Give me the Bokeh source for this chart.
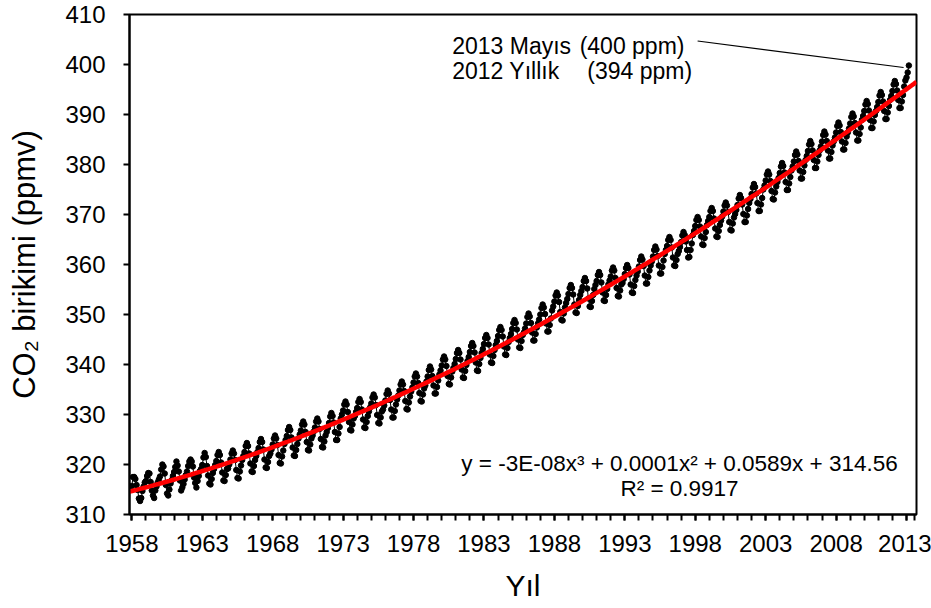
import numpy as np
from bokeh.plotting import figure
from bokeh.models import FixedTicker, Range1d
from bokeh.core.properties import value
from bokeh.embed import file_html
from bokeh.resources import INLINE

# Monthly mean CO2 at Mauna Loa (ppmv), March 1958 - May 2013
co2_1958_1959 = [315.7, 317.5, 317.5, 317.1, 315.9, 314.9, 313.2, 312.7, 313.3, 314.7,
                 315.6, 316.4, 316.7, 317.7, 318.3, 318.2, 316.5, 314.8, 313.8, 313.3, 314.8, 315.6]
co2_1960s = [
    316.4, 317.0, 317.6, 319.0, 320.0, 319.6, 318.2, 315.9, 314.2, 313.8, 315.0, 316.2,
    316.9, 317.7, 318.5, 319.5, 320.6, 319.8, 318.6, 316.8, 314.8, 315.4, 316.1, 317.0,
    317.9, 318.6, 319.7, 320.6, 321.0, 320.6, 319.6, 317.4, 316.3, 315.4, 316.7, 317.7,
    318.7, 319.1, 319.9, 321.4, 322.3, 321.5, 319.7, 317.8, 316.2, 316.0, 317.1, 318.3,
    319.1, 319.9, 320.7, 321.9, 322.5, 321.9, 320.4, 318.4, 316.8, 316.7, 317.9, 319.1,
    319.2, 320.0, 321.0, 322.2, 322.8, 322.2, 320.9, 318.9, 317.3, 317.2, 318.6, 319.8,
    320.9, 321.7, 322.5, 323.7, 324.3, 323.7, 322.2, 320.2, 318.6, 318.5, 319.7, 320.9,
    321.7, 322.5, 323.3, 324.5, 325.1, 324.5, 323.0, 321.0, 319.4, 319.3, 320.5, 321.7,
    322.2, 323.0, 324.0, 325.2, 325.8, 325.2, 323.9, 321.9, 320.3, 320.2, 321.6, 322.8,
    324.1, 324.9, 325.7, 326.9, 327.5, 326.9, 325.4, 323.4, 321.8, 321.7, 322.9, 324.1]
co2_1970s = [
    325.2, 326.0, 326.8, 328.0, 328.6, 328.0, 326.5, 324.5, 322.9, 322.8, 324.0, 325.2,
    325.8, 326.6, 327.4, 328.6, 329.2, 328.6, 327.1, 325.1, 323.5, 323.4, 324.6, 325.8,
    326.5, 327.3, 328.3, 329.6, 330.3, 329.7, 328.4, 326.5, 324.9, 324.9, 326.2, 327.5,
    329.2, 330.0, 330.8, 332.0, 332.6, 332.0, 330.5, 328.5, 326.9, 326.8, 328.0, 329.2,
    329.7, 330.5, 331.3, 332.5, 333.1, 332.5, 331.0, 329.0, 327.4, 327.3, 328.5, 329.7,
    330.6, 331.4, 332.2, 333.4, 334.0, 333.4, 331.9, 329.9, 328.3, 328.2, 329.4, 330.6,
    331.0, 331.8, 332.8, 334.1, 334.8, 334.2, 332.9, 331.0, 329.4, 329.4, 330.7, 332.0,
    333.0, 333.8, 334.8, 336.0, 336.6, 336.0, 334.7, 332.7, 331.1, 331.0, 332.4, 333.6,
    334.6, 335.4, 336.4, 337.6, 338.2, 337.6, 336.3, 334.3, 332.7, 332.6, 334.0, 335.2,
    335.8, 336.6, 337.6, 338.9, 339.6, 339.0, 337.7, 335.8, 334.2, 334.2, 335.5, 336.8]
co2_1980s = [
    338.0, 338.8, 339.8, 341.0, 341.6, 341.0, 339.7, 337.7, 336.1, 336.0, 337.4, 338.6,
    339.3, 340.1, 341.1, 342.3, 342.9, 342.3, 341.0, 339.0, 337.4, 337.3, 338.7, 339.9,
    340.7, 341.5, 342.5, 343.7, 344.3, 343.7, 342.4, 340.4, 338.8, 338.7, 340.1, 341.3,
    342.3, 343.1, 344.1, 345.3, 345.9, 345.3, 344.0, 342.0, 340.4, 340.3, 341.7, 342.9,
    343.9, 344.7, 345.7, 346.9, 347.5, 346.9, 345.6, 343.6, 342.0, 341.9, 343.3, 344.5,
    345.3, 346.1, 347.1, 348.3, 348.9, 348.3, 347.0, 345.0, 343.4, 343.3, 344.7, 345.9,
    346.4, 347.2, 348.2, 349.5, 350.2, 349.6, 348.3, 346.4, 344.8, 344.8, 346.1, 347.4,
    348.2, 349.0, 350.0, 351.3, 352.0, 351.4, 350.1, 348.2, 346.6, 346.6, 347.9, 349.2,
    350.8, 351.6, 352.6, 353.8, 354.4, 353.8, 352.5, 350.5, 348.9, 348.8, 350.2, 351.4,
    352.3, 353.1, 354.1, 355.3, 355.9, 355.3, 354.0, 352.0, 350.4, 350.3, 351.7, 352.9]
co2_1990s = [
    353.9, 354.7, 355.5, 356.7, 357.3, 356.7, 355.2, 353.2, 351.6, 351.5, 352.7, 353.9,
    355.1, 355.9, 356.7, 357.9, 358.5, 357.9, 356.4, 354.4, 352.8, 352.7, 353.9, 355.1,
    356.0, 356.8, 357.6, 358.8, 359.4, 358.8, 357.3, 355.3, 353.7, 353.6, 354.8, 356.0,
    356.3, 357.1, 358.1, 359.3, 359.9, 359.3, 358.0, 356.0, 354.4, 354.3, 355.7, 356.9,
    357.8, 358.6, 359.6, 360.9, 361.6, 361.0, 359.7, 357.8, 356.2, 356.2, 357.5, 358.8,
    359.8, 360.6, 361.6, 362.9, 363.6, 363.0, 361.7, 359.8, 358.2, 358.2, 359.5, 360.8,
    362.1, 362.9, 363.7, 364.9, 365.5, 364.9, 363.4, 361.4, 359.8, 359.7, 360.9, 362.1,
    362.7, 363.5, 364.5, 365.8, 366.5, 365.9, 364.6, 362.9, 361.4, 361.5, 362.9, 364.2,
    365.9, 366.7, 367.7, 368.9, 369.5, 368.9, 367.6, 365.6, 364.0, 363.9, 365.3, 366.5,
    367.9, 368.7, 369.5, 370.7, 371.3, 370.7, 369.2, 367.2, 365.6, 365.5, 366.7, 367.9]
co2_2000s = [
    368.8, 369.6, 370.6, 371.8, 372.4, 371.8, 370.5, 368.5, 366.9, 366.8, 368.2, 369.4,
    370.1, 370.9, 371.9, 373.2, 373.9, 373.3, 372.0, 370.1, 368.5, 368.5, 369.8, 371.1,
    372.3, 373.1, 374.1, 375.4, 376.1, 375.5, 374.2, 372.3, 370.7, 370.7, 372.0, 373.3,
    375.0, 375.8, 376.8, 378.0, 378.6, 378.0, 376.7, 374.7, 373.1, 373.0, 374.4, 375.6,
    376.5, 377.3, 378.3, 379.6, 380.3, 379.7, 378.4, 376.5, 374.9, 374.9, 376.2, 377.5,
    378.8, 379.6, 380.6, 381.9, 382.6, 382.0, 380.7, 378.8, 377.2, 377.2, 378.5, 379.8,
    380.9, 381.7, 382.7, 384.0, 384.7, 384.1, 382.8, 380.9, 379.3, 379.3, 380.6, 381.9,
    382.8, 383.6, 384.6, 385.9, 386.6, 386.0, 384.7, 382.8, 381.2, 381.2, 382.5, 383.8,
    384.6, 385.4, 386.4, 387.7, 388.4, 387.8, 386.5, 384.6, 383.0, 383.0, 384.3, 385.6,
    386.4, 387.2, 388.2, 389.5, 390.2, 389.6, 388.3, 386.4, 384.8, 384.8, 386.1, 387.4]
co2_2010_2013 = [
    388.9, 389.7, 390.7, 392.0, 392.7, 392.1, 390.8, 388.9, 387.3, 387.3, 388.6, 389.9,
    390.7, 391.5, 392.5, 393.8, 394.5, 393.9, 392.6, 390.7, 389.1, 389.1, 390.4, 391.7,
    392.9, 393.7, 394.7, 396.0, 396.7, 396.1, 394.8, 392.9, 391.3, 391.3, 392.6, 393.9,
    395.6, 396.8, 397.4, 398.4, 399.8]

tick_years = ["1958", "1963", "1968", "1973", "1978", "1983", "1988",
              "1993", "1998", "2003", "2008", "2013"]
y_ticks = [310, 320, 330, 340, 350, 360, 370, 380, 390, 400, 410]

co2 = np.array(co2_1958_1959 + co2_1960s + co2_1970s + co2_1980s +
               co2_1990s + co2_2000s + co2_2010_2013)
month_idx = np.arange(len(co2))  # 0 = March 1958 (category axis, as in the source)

# third-order polynomial trend of the monthly series
coef = np.polyfit(month_idx, co2, 3)
x_range_start, x_range_end = -2, 668.5
trend_x = np.linspace(x_range_start, x_range_end, 300)
trend_y = np.polyval(coef, trend_x)

FONT = value("Liberation Sans")

p = figure(width=931, height=608, output_backend="svg", toolbar_location=None,
           x_range=Range1d(x_range_start, x_range_end), y_range=Range1d(310, 410),
           min_border_left=129, min_border_right=15, min_border_top=14, min_border_bottom=94)
p.background_fill_color = "white"
p.border_fill_color = "white"
p.outline_line_color = "black"
p.outline_line_width = 2
p.xgrid.grid_line_color = None
p.ygrid.grid_line_color = None

major = [i * 60 for i in range(len(tick_years))]
p.xaxis.ticker = FixedTicker(ticks=major, minor_ticks=list(range(0, 669, 12)) + [667])
p.xaxis.major_label_overrides = {t: lab for t, lab in zip(major, tick_years)}
p.yaxis.ticker = FixedTicker(ticks=y_ticks)

for ax in (p.xaxis, p.yaxis):
    ax.axis_line_width = 2
    ax.axis_line_color = "black"
    ax.major_tick_line_color = "black"
    ax.major_tick_line_width = 2
    ax.minor_tick_line_color = "black"
    ax.minor_tick_line_width = 2
    ax.major_tick_in = 0
    ax.major_tick_out = 6
    ax.minor_tick_in = 0
    ax.minor_tick_out = 6
    ax.major_label_text_font = "Liberation Sans"
    ax.major_label_text_font_size = "24px"
    ax.major_label_text_color = "black"
    ax.axis_label_text_font = "Liberation Sans"
    ax.axis_label_text_font_style = "normal"
    ax.axis_label_text_color = "black"

p.yaxis.minor_tick_out = 0
p.xaxis.major_label_standoff = 14
p.yaxis.major_label_standoff = 18
p.xaxis.axis_label = "Yıl"
p.xaxis.axis_label_text_font_size = "30px"
p.xaxis.axis_label_standoff = 14
p.yaxis.axis_label = "CO₂ birikimi (ppmv)"
p.yaxis.axis_label_text_font_size = "31px"
p.yaxis.axis_label_standoff = 20

# monthly series: thin connecting line plus dots
p.line(month_idx, co2, line_color="black", line_width=1)
p.scatter(month_idx, co2, size=5.5, fill_color="black", line_color="black")

# red polynomial trend line
p.line(trend_x, trend_y, line_color="#FF0000", line_width=4.5)

# annotation texts and leader line
p.text(x=[272.9, 272.9], y=[403.8, 398.8], text=["2013 Mayıs", "2012 Yıllık"],
       text_font=FONT, text_font_size="23px", text_color="black",
       text_align="left", text_baseline="middle")
p.text(x=[381.5, 388.0], y=[403.8, 398.8], text=["(400 ppm)", "(394 ppm)"],
       text_font=FONT, text_font_size="23px", text_color="black",
       text_align="left", text_baseline="middle")
p.line([482.0, 657.5], [404.7, 399.4], line_color="black", line_width=1.2)

p.text(x=[466.6, 466.6], y=[320.2, 315.2],
       text=["y = -3E-08x³ + 0.0001x² + 0.0589x + 314.56", "R² = 0.9917"],
       text_font=FONT, text_font_size="22.5px", text_color="black",
       text_align="center", text_baseline="middle")

open("out.html", "w").write(file_html(p, INLINE))
